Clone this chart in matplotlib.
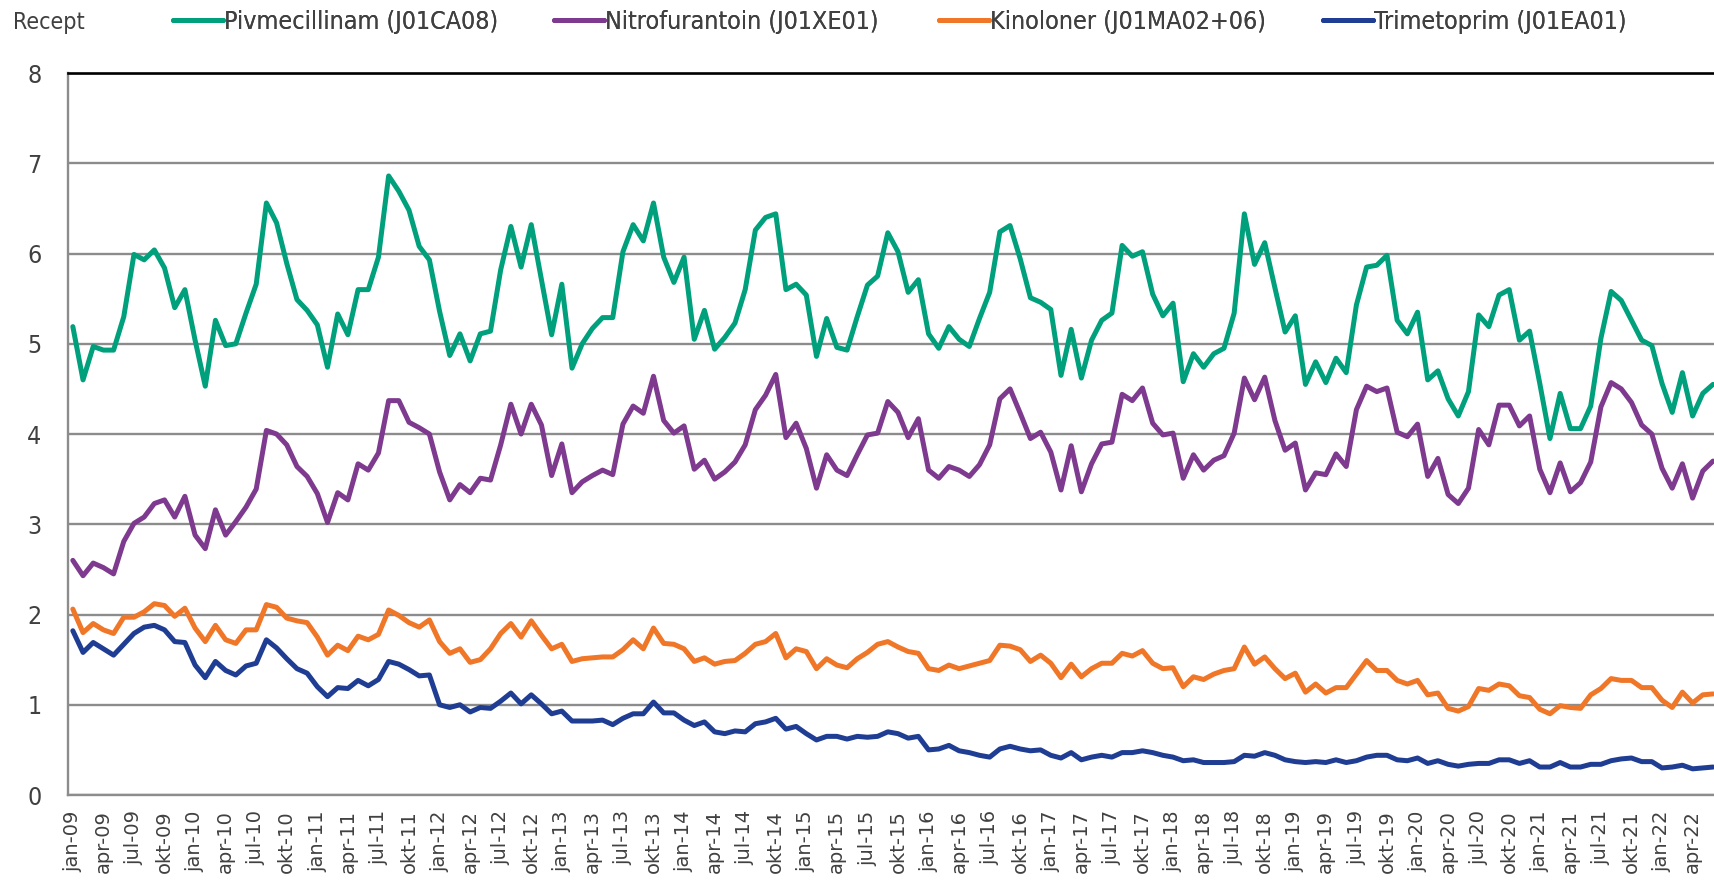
import matplotlib
matplotlib.use('Agg')
import matplotlib.pyplot as plt
from matplotlib import font_manager
from matplotlib.font_manager import FontProperties

# Monthly values, jan-09 .. jun-22
pivmecillinam = [
    5.19, 4.60, 4.97, 4.93, 4.93, 5.30, 5.99, 5.93, 6.04, 5.84, 5.40, 5.60,
    5.04, 4.53, 5.26, 4.98, 5.00, 5.34, 5.66, 6.56, 6.34, 5.89, 5.49, 5.37,
    5.21, 4.74, 5.33, 5.10, 5.60, 5.60, 5.96, 6.86, 6.69, 6.48, 6.08, 5.93,
    5.36, 4.87, 5.11, 4.81, 5.11, 5.14, 5.82, 6.30, 5.85, 6.32, 5.71, 5.10,
    5.66, 4.73, 5.00, 5.17, 5.29, 5.29, 6.02, 6.32, 6.14, 6.56, 5.96, 5.68,
    5.96, 5.05, 5.37, 4.94, 5.07, 5.23, 5.60, 6.26, 6.40, 6.44, 5.60, 5.66,
    5.54, 4.86, 5.28, 4.96, 4.93, 5.30, 5.65, 5.75, 6.23, 6.02, 5.57, 5.71,
    5.11, 4.95, 5.19, 5.05, 4.97, 5.28, 5.57, 6.24, 6.31, 5.94, 5.51, 5.46,
    5.38, 4.65, 5.16, 4.62, 5.04, 5.26, 5.34, 6.09, 5.97, 6.02, 5.55, 5.31,
    5.45, 4.58, 4.89, 4.74, 4.89, 4.95, 5.34, 6.44, 5.88, 6.12, 5.62, 5.13,
    5.31, 4.55, 4.80, 4.57, 4.84, 4.68, 5.43, 5.85, 5.87, 5.98, 5.26, 5.11,
    5.35, 4.60, 4.70, 4.39, 4.20, 4.47, 5.32, 5.19, 5.54, 5.60, 5.04, 5.14,
    4.56, 3.95, 4.45, 4.06, 4.06, 4.31, 5.06, 5.58, 5.48, 5.26, 5.04, 4.98,
    4.56, 4.24, 4.68, 4.20, 4.45, 4.55,
]
nitrofurantoin = [
    2.60, 2.43, 2.57, 2.52, 2.45, 2.81, 3.01, 3.08, 3.23, 3.27, 3.08, 3.31,
    2.88, 2.73, 3.16, 2.88, 3.03, 3.19, 3.39, 4.04, 4.00, 3.88, 3.64, 3.53,
    3.34, 3.02, 3.35, 3.27, 3.67, 3.60, 3.79, 4.37, 4.37, 4.13, 4.07, 4.00,
    3.58, 3.27, 3.44, 3.35, 3.51, 3.49, 3.88, 4.33, 4.00, 4.33, 4.10, 3.54,
    3.89, 3.35, 3.47, 3.54, 3.60, 3.55, 4.11, 4.31, 4.23, 4.64, 4.15, 4.01,
    4.09, 3.61, 3.71, 3.50, 3.58, 3.69, 3.88, 4.27, 4.43, 4.66, 3.96, 4.12,
    3.84, 3.40, 3.77, 3.60, 3.54, 3.77, 3.99, 4.01, 4.36, 4.24, 3.96, 4.17,
    3.60, 3.51, 3.64, 3.60, 3.53, 3.66, 3.88, 4.39, 4.50, 4.23, 3.95, 4.02,
    3.80, 3.38, 3.87, 3.36, 3.67, 3.89, 3.91, 4.44, 4.37, 4.51, 4.12, 3.99,
    4.01, 3.51, 3.77, 3.60, 3.71, 3.76, 4.01, 4.62, 4.38, 4.63, 4.15, 3.82,
    3.90, 3.38, 3.57, 3.55, 3.78, 3.64, 4.27, 4.53, 4.47, 4.51, 4.02, 3.97,
    4.11, 3.53, 3.73, 3.33, 3.23, 3.40, 4.05, 3.88, 4.32, 4.32, 4.09, 4.20,
    3.61, 3.35, 3.68, 3.36, 3.46, 3.69, 4.30, 4.57, 4.50, 4.35, 4.10, 4.00,
    3.62, 3.40, 3.67, 3.29, 3.59, 3.70,
]
kinoloner = [
    2.06, 1.80, 1.90, 1.83, 1.79, 1.97, 1.97, 2.03, 2.12, 2.10, 1.98, 2.07,
    1.85, 1.70, 1.88, 1.72, 1.68, 1.83, 1.83, 2.11, 2.08, 1.96, 1.93, 1.91,
    1.75, 1.55, 1.66, 1.60, 1.76, 1.72, 1.78, 2.05, 1.99, 1.91, 1.86, 1.94,
    1.70, 1.57, 1.62, 1.47, 1.50, 1.62, 1.79, 1.90, 1.75, 1.93, 1.77, 1.62,
    1.67, 1.48, 1.51, 1.52, 1.53, 1.53, 1.61, 1.72, 1.62, 1.85, 1.68, 1.67,
    1.62, 1.48, 1.52, 1.45, 1.48, 1.49, 1.57, 1.67, 1.70, 1.79, 1.52, 1.62,
    1.59, 1.40, 1.51, 1.44, 1.41, 1.51, 1.58, 1.67, 1.70, 1.64, 1.59, 1.57,
    1.40, 1.38, 1.44, 1.40, 1.43, 1.46, 1.49, 1.66, 1.65, 1.61, 1.48, 1.55,
    1.46, 1.30, 1.45, 1.31, 1.40, 1.46, 1.46, 1.57, 1.54, 1.60, 1.46, 1.40,
    1.41, 1.20, 1.31, 1.28, 1.34, 1.38, 1.40, 1.64, 1.45, 1.53, 1.40, 1.29,
    1.35, 1.14, 1.23, 1.13, 1.19, 1.19, 1.34, 1.49, 1.38, 1.38, 1.27, 1.23,
    1.27, 1.11, 1.13, 0.96, 0.93, 0.98, 1.18, 1.16, 1.23, 1.21, 1.10, 1.08,
    0.95, 0.90, 0.99, 0.97, 0.96, 1.11, 1.18, 1.29, 1.27, 1.27, 1.19, 1.19,
    1.05, 0.97, 1.14, 1.02, 1.11, 1.12,
]
trimetoprim = [
    1.82, 1.58, 1.69, 1.62, 1.55, 1.67, 1.79, 1.86, 1.88, 1.83, 1.70, 1.69,
    1.44, 1.30, 1.48, 1.38, 1.33, 1.43, 1.46, 1.72, 1.63, 1.51, 1.40, 1.35,
    1.20, 1.09, 1.19, 1.18, 1.27, 1.21, 1.28, 1.48, 1.45, 1.39, 1.32, 1.33,
    1.00, 0.97, 1.00, 0.92, 0.97, 0.96, 1.04, 1.13, 1.01, 1.11, 1.01, 0.90,
    0.93, 0.82, 0.82, 0.82, 0.83, 0.78, 0.85, 0.90, 0.90, 1.03, 0.91, 0.91,
    0.83, 0.77, 0.81, 0.70, 0.68, 0.71, 0.70, 0.79, 0.81, 0.85, 0.73, 0.76,
    0.68, 0.61, 0.65, 0.65, 0.62, 0.65, 0.64, 0.65, 0.70, 0.68, 0.63, 0.65,
    0.50, 0.51, 0.55, 0.49, 0.47, 0.44, 0.42, 0.51, 0.54, 0.51, 0.49, 0.50,
    0.44, 0.41, 0.47, 0.39, 0.42, 0.44, 0.42, 0.47, 0.47, 0.49, 0.47, 0.44,
    0.42, 0.38, 0.39, 0.36, 0.36, 0.36, 0.37, 0.44, 0.43, 0.47, 0.44, 0.39,
    0.37, 0.36, 0.37, 0.36, 0.39, 0.36, 0.38, 0.42, 0.44, 0.44, 0.39, 0.38,
    0.41, 0.35, 0.38, 0.34, 0.32, 0.34, 0.35, 0.35, 0.39, 0.39, 0.35, 0.38,
    0.31, 0.31, 0.36, 0.31, 0.31, 0.34, 0.34, 0.38, 0.40, 0.41, 0.37, 0.37,
    0.30, 0.31, 0.33, 0.29, 0.30, 0.31,
]

month_names = ['jan', 'feb', 'mar', 'apr', 'maj', 'jun',
               'jul', 'aug', 'sep', 'okt', 'nov', 'dec']
years = list(range(9, 23))
months = [f'{m}-{y:02d}' for y in years for m in month_names][:len(pivmecillinam)]

series = [
    ('Pivmecillinam (J01CA08)', pivmecillinam, '#00A07C'),
    ('Nitrofurantoin (J01XE01)', nitrofurantoin, '#7E3A8E'),
    ('Kinoloner (J01MA02+06)', kinoloner, '#F07628'),
    ('Trimetoprim (J01EA01)', trimetoprim, '#1F3D92'),
]
# left edge of each legend entry (pixels)
legend_x = [173, 554, 939, 1323]


def narrow_font():
    # prefer a condensed face if one is installed, else Liberation Sans
    fl = font_manager.fontManager.ttflist
    for f in fl:
        if f.name == 'Liberation Sans Narrow' and f.style == 'normal' and f.weight in (400, 'normal', 'regular'):
            return FontProperties(fname=f.fname)
    for fam in ['DejaVu Sans', 'Noto Sans', 'Open Sans', 'Roboto']:
        for f in fl:
            if (f.name == fam and f.stretch in ('condensed', 'semi-condensed')
                    and f.style == 'normal' and f.weight in (400, 'normal', 'regular')):
                return FontProperties(fname=f.fname)
    return FontProperties(family='Liberation Sans')


fig = plt.figure(figsize=(17.15, 8.81), dpi=100)
ax = fig.add_axes([0.0395, 0.0976, 0.9605, 0.8195])
renderer = fig.canvas.get_renderer()


def sized(text, target_px):
    fp = narrow_font()
    fp.set_size(10)
    t = fig.text(0, 0, text, fontproperties=fp)
    w = t.get_window_extent(renderer).width
    t.remove()
    fp.set_size(10 * target_px / w)
    return fp


legend_fp = sized('Pivmecillinam (J01CA08)', 275)
label_fp = sized('Recept', 72)
tick_fp = legend_fp.copy()

x = list(range(len(months)))
lines = []
for name, vals, col in series:
    ln, = ax.plot(x, vals, color=col, lw=3.6, label=name,
                  solid_joinstyle='round', solid_capstyle='round')
    lines.append(ln)

ax.set_ylim(0, 8)
ax.set_xlim(-0.5, 161.2)
ax.set_yticks(range(0, 9))
ax.yaxis.grid(True, color='#8C8C8C', lw=1.7)
ax.set_axisbelow(True)

ax.set_xticks(x[::3])
ax.set_xticklabels(months[::3], rotation=90, fontsize=14,
                   color='#404040', family='DejaVu Sans')
for lbl in ax.get_yticklabels():
    lbl.set_fontproperties(tick_fp)
    lbl.set_color('#404040')
ax.tick_params(axis='both', length=0)
ax.tick_params(axis='x', pad=11)
ax.tick_params(axis='y', pad=19)

for side in ['left', 'bottom']:
    ax.spines[side].set_color('#8C8C8C')
    ax.spines[side].set_linewidth(1.7)
ax.spines['right'].set_visible(False)
ax.spines['top'].set_color('black')
ax.spines['top'].set_linewidth(1.9)

fig.text(13 / 1715, 1 - 22 / 881, 'Recept', ha='left', va='center',
         fontproperties=label_fp, color='#404040')

fs_px = legend_fp.get_size() * 100 / 72
for ln, lx in zip(lines, legend_x):
    leg = fig.legend(handles=[ln], loc='center left', frameon=False,
                     bbox_to_anchor=(lx / 1715, 1 - 22 / 881),
                     prop=legend_fp, handlelength=50 / fs_px,
                     handletextpad=0.05, labelcolor='#404040',
                     borderaxespad=0, borderpad=0)
    fig.add_artist(leg)

fig.savefig('out.png', dpi=100)
